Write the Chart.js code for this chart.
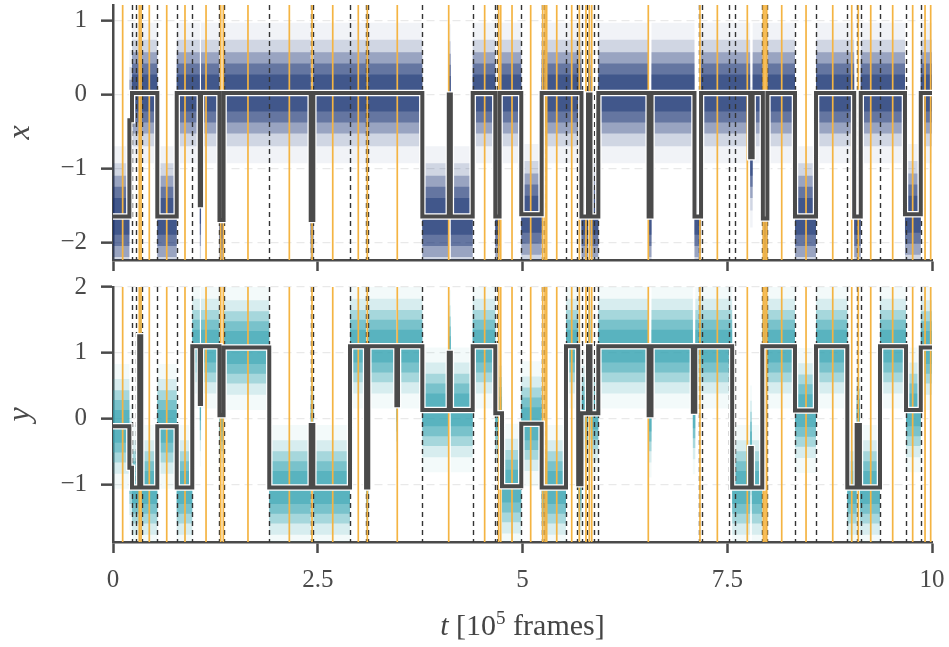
<!DOCTYPE html>
<html>
<head>
<meta charset="utf-8">
<script src="https://cdn.jsdelivr.net/npm/chart.js@4.4.1/dist/chart.umd.min.js"></script>
<style>
  body { margin: 0; background: #fff; }
  #wrap { position: relative; width: 949px; height: 647px; }
  #topChart { position: absolute; left: 0; top: 0; }
  #botChart { position: absolute; left: 0; top: 267px; }
  #tTitle {
    position: absolute; left: 113px; width: 819px; top: 608px;
    text-align: center; font-family: "Liberation Serif", serif; font-size: 30px; color: #444;
  }
  #tTitle sup { font-size: 19px; vertical-align: 11px; line-height: 0; }
</style>
</head>
<body>
<div id="wrap">
  <canvas id="topChart" width="949" height="275"></canvas>
  <canvas id="botChart" width="949" height="380"></canvas>
  <div id="tTitle"><i>t</i> [10<sup>5</sup> frames]</div>
</div>
<script>
// state segments (time in 1e5 frames)
const xTimes = [0, 0.20, 0.232, 0.541, 0.778, 1.06, 1.075, 1.30, 1.35, 2.414, 2.446, 3.777, 4.10, 4.125,
  4.392, 4.668, 4.72, 4.985, 5.234, 5.72, 5.80, 5.83, 5.926, 6.54, 6.575, 7.10, 7.18, 7.78, 7.81, 7.935,
  7.99, 8.327, 8.584, 9.05, 9.13, 9.67, 9.863, 10];
const xLevels = [-1.65, -0.35, 0.02, -1.65, 0.02, -1.5, 0.02, -1.7, 0.02, -1.7, 0.02, -1.65, 0.0, -1.65,
  0.02, -1.65, 0.02, -1.62, 0.02, -1.65, 0.0, -1.65, 0.02, -1.65, 0.02, -1.65, 0.02, -0.85, 0.02, -1.68,
  0.02, -1.65, 0.02, -1.65, 0.02, -1.62, 0.02];

const yTimes = [0, 0.20, 0.232, 0.32, 0.345, 0.541, 0.778, 0.968, 1.06, 1.075, 1.30, 1.35, 1.908, 2.414,
  2.446, 2.894, 3.09, 3.117, 3.46, 3.48, 3.777, 4.10, 4.125, 4.392, 4.668, 4.75, 4.985, 5.234, 5.531, 5.68,
  5.72, 5.80, 5.83, 5.926, 6.54, 6.575, 7.08, 7.11, 7.56, 7.78, 7.80, 7.928, 8.327, 8.584, 8.966, 9.08,
  9.12, 9.365, 9.683, 9.863, 10];
const yLevels = [-0.12, -0.75, -1.05, 1.25, -1.05, -0.12, -1.05, 1.1, 0.22, 1.1, 0.05, 1.08, -1.05, -0.1,
  -1.05, 1.1, -1.05, 1.1, 0.2, 1.1, 0.13, 1.0, 0.13, 1.1, 0.08, -1.03, -0.08, -1.05, 1.1, -1.0,
  0.08, 1.1, 0.08, 1.1, 0.05, 1.1, 0.1, 1.1, -1.05, -0.45, -1.05, 1.1, 0.12, 1.1, -1.05, -0.1,
  -1.05, 1.1, 0.13, 1.08];

// half-widths of the raw-sample cloud around the state level, dense core to sparse fringe
const cloudSpread = [0.25, 0.4, 0.55, 0.72, 0.95];
const cloudAlpha = [0.45, 0.4, 0.3, 0.15, 0.06];

// change points (orange) and detected boundaries (dashed)
const orangeT = [0.118, 0.321, 0.342, 0.443, 0.656, 0.879, 1.136, 1.315, 1.347, 1.648, 2.153, 2.430,
  2.683, 2.995, 3.105, 3.471, 4.099, 4.538, 4.709, 4.734, 4.872, 5.100, 5.247, 5.275, 5.295, 5.418,
  5.601, 5.694, 5.775, 5.816, 5.845, 6.536, 7.167, 7.379, 7.745, 7.940, 7.961, 7.982, 8.165, 8.462,
  8.788, 9.020, 9.100, 9.252, 9.520, 9.764, 9.915, 9.984];
const dashedT = [0.232, 0.281, 0.350, 0.541, 0.778, 0.968, 1.298, 1.355, 1.908, 2.414, 2.446, 2.894,
  3.089, 3.117, 3.777, 4.392, 4.668, 4.692, 4.985, 5.234, 5.263, 5.531, 5.662, 5.723, 5.784, 5.873,
  5.926, 7.159, 7.188, 7.525, 7.591, 7.928, 7.989, 8.327, 8.584, 8.966, 9.081, 9.130, 9.365, 9.683, 9.863];

const xTicks = [0, 2.5, 5, 7.5, 10];

const SERIF = "'Liberation Serif', 'DejaVu Serif', serif";
const INK = "#4a4a4a";

function stepSeries(times, levels, offset) {
  const pts = [];
  for (let i = 0; i < levels.length; i++) {
    pts.push({ x: times[i], y: levels[i] + offset });
    pts.push({ x: times[i + 1], y: levels[i] + offset });
  }
  return pts;
}

function minusLabel(v) {
  if (v < 0) return "\u2212" + Math.abs(v);
  return String(v);
}

const vlines = {
  id: "vlines",
  beforeDatasetDraw(chart, args) {
    if (chart.data.datasets[args.index].label !== "outline") return;
    const { ctx, chartArea: a } = chart;
    const sx = chart.scales.x;
    ctx.save();
    ctx.beginPath();
    ctx.rect(a.left, a.top, a.right - a.left, a.bottom - a.top);
    ctx.clip();
    ctx.lineWidth = 1.4;
    ctx.strokeStyle = "#333333";
    ctx.setLineDash([5, 4]);
    dashedT.forEach((t) => {
      const px = Math.round(sx.getPixelForValue(t)) + 0.5;
      ctx.beginPath();
      ctx.moveTo(px, a.top);
      ctx.lineTo(px, a.bottom);
      ctx.stroke();
    });
    ctx.setLineDash([]);
    ctx.lineWidth = 1.7;
    ctx.strokeStyle = "#f4b443";
    orangeT.forEach((t) => {
      const px = sx.getPixelForValue(t);
      ctx.beginPath();
      ctx.moveTo(px, a.top);
      ctx.lineTo(px, a.bottom);
      ctx.stroke();
    });
    ctx.restore();
  },
};

function makePanel(canvasId, times, levels, rgb, yMin, yMax, yTickVals, yTitle, padTop, xHeight, showXLabels) {
  const bands = [];
  cloudSpread.forEach((s, k) => {
    bands.push({
      label: "up" + k,
      data: stepSeries(times, levels, s),
      borderWidth: 0,
      pointRadius: 0,
      fill: "+1",
      backgroundColor: "rgba(" + rgb + "," + cloudAlpha[k] + ")",
    });
    bands.push({
      label: "lo" + k,
      data: stepSeries(times, levels, -s),
      borderWidth: 0,
      pointRadius: 0,
      fill: false,
    });
  });
  const datasets = [
    {
      label: "line",
      data: stepSeries(times, levels, 0),
      borderColor: INK,
      borderWidth: 4,
      pointRadius: 0,
      fill: false,
    },
    {
      label: "outline",
      data: stepSeries(times, levels, 0),
      borderColor: "#ffffff",
      borderWidth: 6.5,
      pointRadius: 0,
      fill: false,
    },
    ...bands,
  ];

  return new Chart(document.getElementById(canvasId), {
    type: "line",
    data: { datasets },
    plugins: [vlines],
    options: {
      responsive: false,
      animation: false,
      events: [],
      layout: { padding: { top: padTop, right: 17, left: 0, bottom: 0 } },
      plugins: { legend: { display: false }, tooltip: { enabled: false } },
      scales: {
        x: {
          type: "linear",
          min: 0,
          max: 10,
          afterBuildTicks: (s) => { s.ticks = xTicks.map((v) => ({ value: v })); },
          afterFit: (s) => { s.height = xHeight; s.paddingLeft = 0; s.paddingRight = 0; },
          ticks: {
            display: showXLabels,
            color: INK,
            padding: 12,
            maxRotation: 0,
            font: { family: SERIF, size: 25 },
            callback: (v) => String(v),
          },
          grid: { drawOnChartArea: false, drawTicks: true, tickLength: 11, tickWidth: 2.5, tickColor: INK },
          border: { display: true, color: INK, width: 2.5 },
        },
        y: {
          type: "linear",
          min: yMin,
          max: yMax,
          afterBuildTicks: (s) => { s.ticks = yTickVals.map((v) => ({ value: v })); },
          afterFit: (s) => { s.width = 113; s.paddingTop = 0; s.paddingBottom = 0; },
          ticks: {
            color: INK,
            padding: 14,
            font: { family: SERIF, size: 25 },
            callback: (v) => minusLabel(v),
          },
          grid: {
            color: "#e9e9e9",
            lineWidth: 1.3,
            drawTicks: true,
            tickLength: 12,
            tickWidth: 2.5,
            tickColor: INK,
            tickBorderDash: [],
          },
          border: { display: true, color: INK, width: 2.5, dash: [8, 5] },
          title: {
            display: true,
            text: yTitle,
            color: INK,
            padding: { top: 1, bottom: 0 },
            font: { family: SERIF, size: 32, style: "italic" },
          },
        },
      },
    },
  });
}

makePanel("topChart", xTimes, xLevels, "22,48,112", -2.24, 1.21, [-2, -1, 0, 1], "x", 5, 15, false);
makePanel("botChart", yTimes, yLevels, "52,162,177", -1.88, 2.0, [-1, 0, 1, 2], "y", 20, 105, true);
</script>
</body>
</html>
